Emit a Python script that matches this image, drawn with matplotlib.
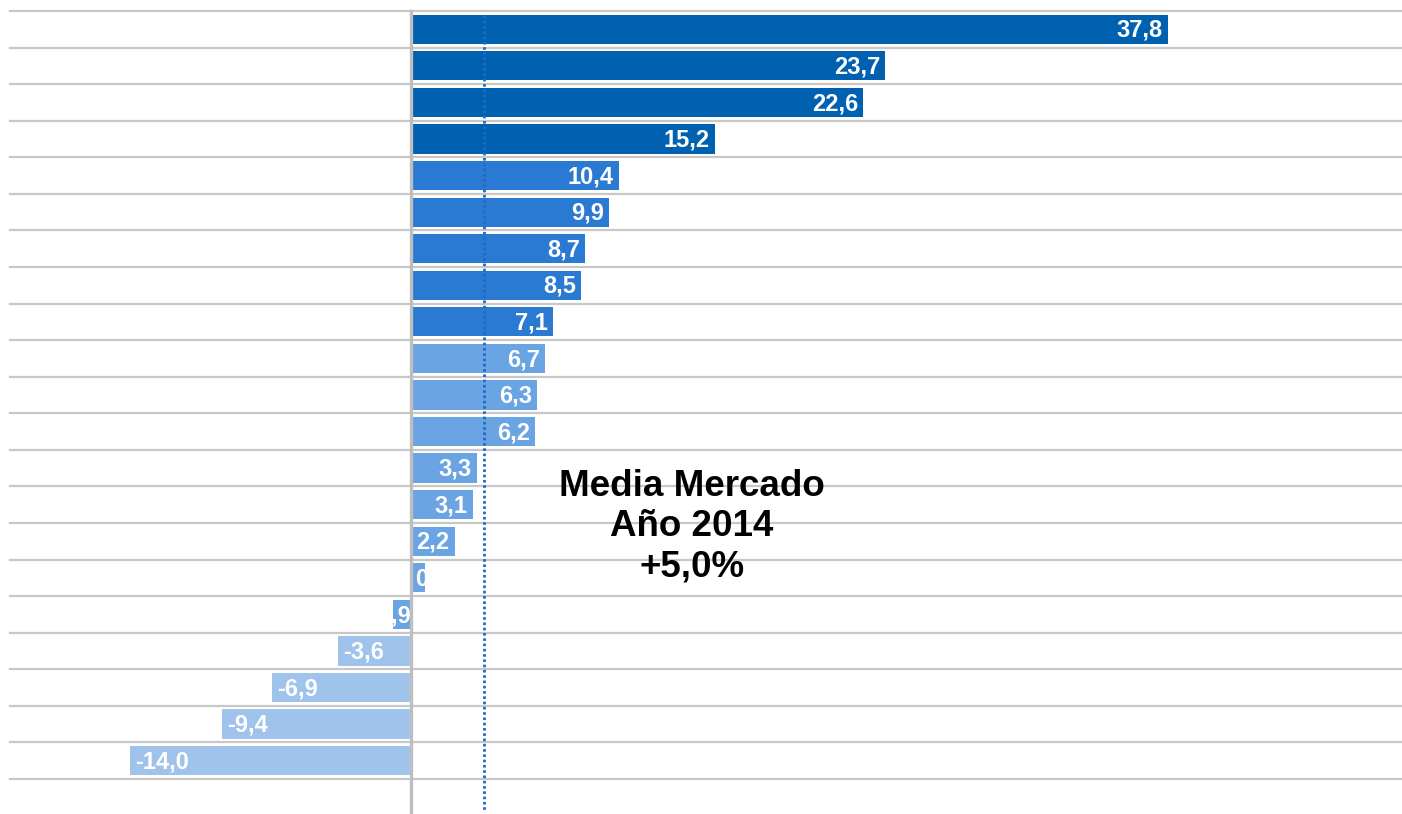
import matplotlib
matplotlib.use('Agg')
import matplotlib.pyplot as plt
from matplotlib.transforms import Bbox, TransformedBbox

# Data (top to bottom)
values = [37.8, 23.7, 22.6, 15.2, 10.4, 9.9, 8.7, 8.5, 7.1, 6.7, 6.3,
          6.2, 3.3, 3.1, 2.2, 0.7, -0.9, -3.6, -6.9, -9.4, -14.0]
groups = [0, 0, 0, 0, 1, 1, 1, 1, 1, 2, 2, 2, 2, 2, 2, 2, 2, 3, 3, 3, 3]
group_colors = ['#0061B1', '#2A7AD3', '#6BA4E2', '#A0C3EC']
media_x = 3.65
media_text = 'Media Mercado\nAño 2014\n+5,0%'

plt.rcParams['font.family'] = ['Liberation Sans', 'DejaVu Sans']

W, H = 1402, 814
fig = plt.figure(figsize=(W / 100, H / 100), dpi=100)
row_px = 36.57
top_px = 11
n_rows = 22
ax = fig.add_axes([10 / W, 1 - (top_px + n_rows * row_px) / H,
                   1 - 10 / W, n_rows * row_px / H])
ax.set_xlim(-20, 49.5)
ax.set_ylim(n_rows - 0.5, -0.5)
ax.axis('off')

# horizontal grid lines between rows
for k in range(len(values) + 1):
    ax.axhline(k - 0.5, color='#C8C8C8', lw=1.6, zorder=1, clip_on=False)

bars = ax.barh(range(len(values)), values, height=0.8,
               color=[group_colors[g] for g in groups], zorder=2)

# value labels, clipped to their bar
for i, (b, v) in enumerate(zip(bars, values)):
    lab = f'{v:.1f}'.replace('.', ',')
    pad = 0.25
    if abs(v) < 1:
        # narrow bar: label anchored at the base
        x, ha = (pad, 'left') if v > 0 else (0.0, 'right')
    else:
        x, ha = (v - pad, 'right') if v > 0 else (v + pad, 'left')
    t = ax.text(x, i + 0.03, lab, ha=ha, va='center', color='white',
                fontsize=17, fontweight='bold', zorder=4)
    x0, x1 = sorted([0, v])
    t.set_clip_box(TransformedBbox(Bbox([[x0, i - 0.4], [x1, i + 0.4]]),
                                   ax.transData))
    t.set_clip_on(True)

# zero axis
ax.plot([0, 0], [-0.5, n_rows - 0.5], color='#BEBEBE', lw=2.4, zorder=5,
        clip_on=False)

# market average
ax.plot([media_x, media_x], [-0.4, n_rows - 0.6], color='#1D6CC2', lw=2.0,
        linestyle=(0, (0.95, 0.95)), dash_capstyle='butt', zorder=3)

ax.text(14.05, 13.6, media_text, ha='center', va='center', fontsize=26.5,
        fontweight='bold', color='black', linespacing=1.2, zorder=6)

fig.savefig('out.png', dpi=100)
